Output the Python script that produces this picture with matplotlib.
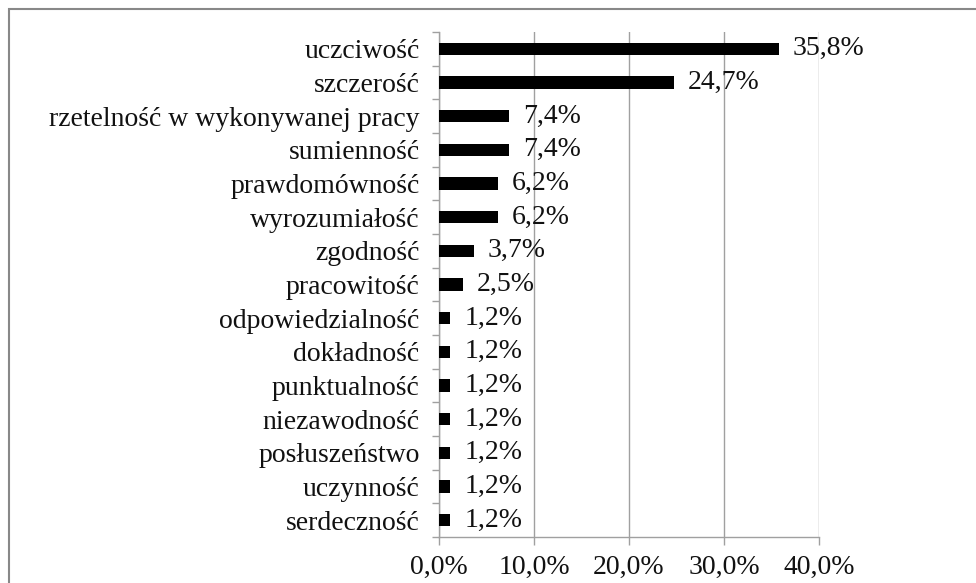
import matplotlib.pyplot as plt
import numpy as np
from matplotlib.ticker import FuncFormatter, FixedLocator

categories = ['uczciwość', 'szczerość', 'rzetelność w wykonywanej pracy', 'sumienność',
              'prawdomówność', 'wyrozumiałość', 'zgodność', 'pracowitość',
              'odpowiedzialność', 'dokładność', 'punktualność', 'niezawodność',
              'posłuszeństwo', 'uczynność', 'serdeczność']
values = [35.8, 24.7, 7.4, 7.4, 6.2, 6.2, 3.7, 2.5, 1.2, 1.2, 1.2, 1.2, 1.2, 1.2, 1.2]
xticks = [0, 10, 20, 30, 40]

plt.rcParams['font.family'] = ['Liberation Serif', 'DejaVu Serif']
fs = 20
grey = '#a0a0a0'
txt = '#111111'

fig = plt.figure(figsize=(9.76, 5.83), dpi=100)
ax = fig.add_axes([439 / 976, 1 - 537 / 583, 380 / 976, 505 / 583])

y = np.arange(len(categories))
ax.barh(y, values, height=0.37, color='black', zorder=3)
for yi, v in zip(y, values):
    ax.annotate(f'{v:.1f}%'.replace('.', ','), (v, yi), xytext=(10, 0),
                textcoords='offset points', va='center', ha='left',
                fontsize=fs, color=txt, zorder=4)

ax.set_ylim(len(categories) - 0.5, -0.5)
ax.set_xlim(0, 40)
ax.set_yticks(y)
ax.set_yticklabels(categories, fontsize=fs, color=txt)
ax.yaxis.set_minor_locator(FixedLocator(np.arange(-0.5, len(categories), 1)))
ax.tick_params(axis='y', which='major', length=0, pad=14)
ax.tick_params(axis='y', which='minor', length=5, color=grey, width=1)

ax.set_xticks(xticks)
ax.xaxis.set_major_formatter(FuncFormatter(lambda v, p: f'{v:.1f}%'.replace('.', ',')))
ax.tick_params(axis='x', length=6, color=grey, width=1, labelsize=fs, pad=7,
               labelcolor=txt)
ax.grid(axis='x', color=grey, linewidth=1, zorder=0)

for side in ['top', 'right']:
    ax.spines[side].set_visible(False)
for side in ['left', 'bottom']:
    ax.spines[side].set_color(grey)
    ax.spines[side].set_linewidth(1)

# outer chart border
border = plt.Rectangle((8.5 / 976, -0.1), 1.2, 1 - 9.5 / 583 + 0.1,
                       transform=fig.transFigure, fill=False,
                       edgecolor='#888888', linewidth=1.5)
fig.patches.append(border)

fig.savefig('out.png', dpi=100)
